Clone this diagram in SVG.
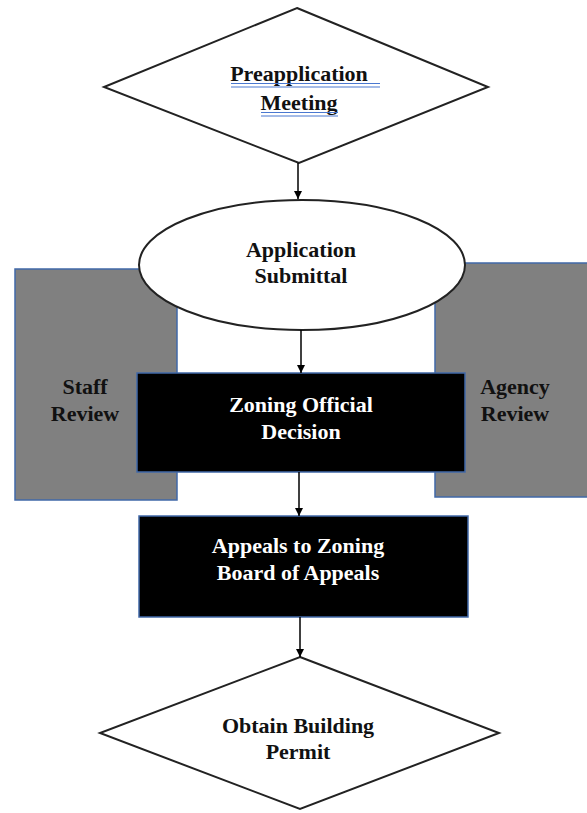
<svg xmlns="http://www.w3.org/2000/svg" width="587" height="813" viewBox="0 0 587 813">
<defs>
<marker id="ah" viewBox="0 0 10 10" refX="10" refY="5" markerWidth="8" markerHeight="8" markerUnits="userSpaceOnUse" orient="auto">
<path d="M0,0 L10,5 L0,10 z" fill="#000"/>
</marker>
<style>
.t{font-family:"Liberation Serif","Times New Roman",serif;font-weight:bold;font-size:22px;text-anchor:middle;fill:#111}
.w{fill:#fff}
.dia{fill:#fff;stroke:#222;stroke-width:2}
.side{fill:#808080;stroke:#4068a8;stroke-width:1.5}
.blk{fill:#000;stroke:#4068a8;stroke-width:1.5}
.con{stroke:#000;stroke-width:1.5;fill:none;marker-end:url(#ah)}
.ul{stroke:#4a78d0;stroke-width:1.2}
</style>
</defs>
<rect width="587" height="813" fill="#fff"/>
<g id="staff-review">
<rect class="side" x="15" y="269" width="162" height="231"/>
<text class="t" x="85" y="394">Staff</text>
<text class="t" x="85" y="421">Review</text>
</g>
<g id="agency-review">
<rect class="side" x="435" y="263" width="160" height="234"/>
<text class="t" x="515" y="394">Agency</text>
<text class="t" x="515" y="421">Review</text>
</g>
<g id="preapplication">
<polygon class="dia" points="297,8 488,87 299,163 104,87"/>
<text class="t" x="299" y="81">Preapplication</text>
<text class="t" x="299" y="110">Meeting</text>
<line class="ul" x1="231" y1="83.5" x2="380" y2="83.5"/>
<line class="ul" x1="231" y1="87" x2="380" y2="87"/>
<line class="ul" x1="261" y1="112.5" x2="338" y2="112.5"/>
<line class="ul" x1="261" y1="116" x2="338" y2="116"/>
</g>
<g id="application-submittal">
<ellipse cx="302" cy="265" rx="163" ry="65" fill="#fff" stroke="#222" stroke-width="2"/>
<text class="t" x="301" y="257">Application</text>
<text class="t" x="301" y="283">Submittal</text>
</g>
<g id="zoning-decision">
<rect class="blk" x="137" y="373" width="328" height="99"/>
<text class="t w" x="301" y="412">Zoning Official</text>
<text class="t w" x="301" y="439">Decision</text>
</g>
<g id="appeals">
<rect class="blk" x="139" y="516" width="329" height="101"/>
<text class="t w" x="298" y="553">Appeals to Zoning</text>
<text class="t w" x="298" y="580">Board of Appeals</text>
</g>
<g id="building-permit">
<polygon class="dia" points="300,657 499,733 300,809 100,733"/>
<text class="t" x="298" y="733">Obtain Building</text>
<text class="t" x="298" y="759">Permit</text>
</g>
<g id="connectors">
<line class="con" x1="298" y1="163" x2="298" y2="199"/>
<line class="con" x1="301" y1="330" x2="301" y2="373"/>
<line class="con" x1="299" y1="472" x2="299" y2="516"/>
<line class="con" x1="300" y1="617" x2="300" y2="657"/>
</g>
</svg>
